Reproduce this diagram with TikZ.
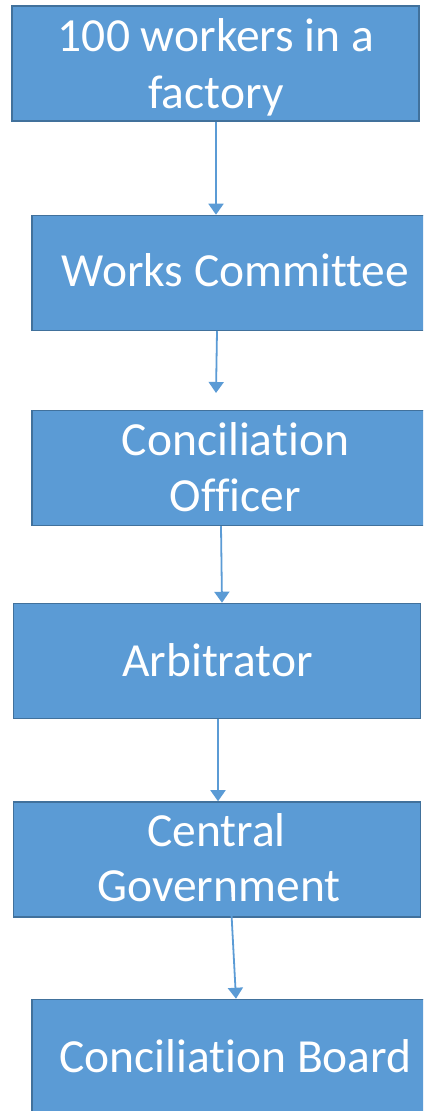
\documentclass[tikz,border=0pt]{standalone}
\usepackage{fontspec}
\setmainfont[Ligatures=NoCommon]{Carlito}
\usetikzlibrary{arrows.meta}
\definecolor{boxfill}{HTML}{5B9BD5}
\definecolor{boxline}{HTML}{41719C}
\begin{document}
\begin{tikzpicture}[x=1pt,y=1pt,
  stagebox/.style={rectangle, fill=boxfill, draw=boxline, line width=1.5pt,
    minimum width=407pt, minimum height=115pt, inner sep=0pt},
  stagetext/.style={anchor=base, text=white, inner sep=0pt,
    font=\fontsize{47.5}{56}\selectfont},
  flow/.style={draw=boxfill, line width=1.8pt,
    -{Triangle[width=15pt,length=11pt]}}]
\useasboundingbox (0,0) rectangle (423,1111);
\clip (0,0) rectangle (423,1111);

% boxes of the procedure
\node[stagebox] (b1) at (215.5,1047.5) {};
\node[stagebox] (b2) at (235.5,838) {};
\node[stagebox] (b3) at (235.5,643) {};
\node[stagebox] (b4) at (217,450) {};
\node[stagebox] (b5) at (217,251.5) {};
\node[stagebox] (b6) at (235.5,54) {};

% labels, one node per line
\node[stagetext] (t1a) at (216,1059.3) {100 workers in a};
\node[stagetext] (t1b) at (216,1002.7) {factory};
\node[stagetext] (t2)  at (235.5,824.3) {Works Committee};
\node[stagetext] (t3a) at (235.5,655) {Conciliation};
\node[stagetext] (t3b) at (235.5,599.3) {Officer};
\node[stagetext] (t4)  at (217.5,434) {Arbitrator};
\node[stagetext] (t5a) at (216.5,264.3) {Central};
\node[stagetext] (t5b) at (219,209.3) {Government};
\node[stagetext] (t6)  at (235.5,38) {Conciliation Board};

% free ends of two connectors
\coordinate (c2) at (216,718);
\coordinate (c5) at (230,225);

% connectors
\draw[flow] ([xshift=0.5pt]b1.south) -- ([xshift=-19.5pt]b2.north);
\draw[flow] ([xshift=-18.5pt]b2.south) -- (c2);
\draw[flow] ([xshift=-14.5pt]b3.south) -- ([xshift=5pt]b4.north);
\draw[flow] ([xshift=1pt]b4.south) -- ([xshift=1pt]b5.north);
\draw[flow] (c5) -- ([xshift=0.5pt]b6.north);
\end{tikzpicture}
\end{document}
